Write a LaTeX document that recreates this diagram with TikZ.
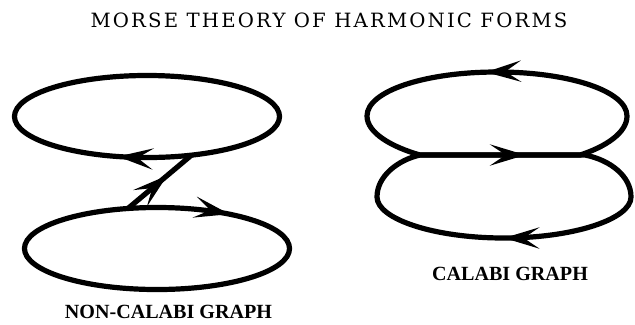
\documentclass[tikz,border=0pt]{standalone}
\usepackage{fontspec}
\usetikzlibrary{arrows.meta,positioning,shapes.geometric,decorations.markings}
\newfontfamily\labelfont{Liberation Serif}
\newfontfamily\titlefont[LetterSpace=11]{DejaVu Serif}

\begin{document}
\begin{tikzpicture}[x=0.025cm,y=-0.025cm,
    oval/.style={draw,ellipse,line width=3.7pt,inner sep=0pt,outer sep=0pt,
        minimum width=6.625cm,minimum height=2.05cm},
    wire/.style={line width=3.7pt},
    barb/.tip={Stealth[length=25pt,width=15pt,inset=11pt]},
    fwd/.style={postaction={decorate,decoration={markings,
        mark=at position #1 with {\arrow{barb}}}}},
    bwd/.style={postaction={decorate,decoration={markings,
        mark=at position #1 with {\arrowreversed{barb}}}}},
    caption/.style={font=\labelfont\bfseries\fontsize{14.3}{16}\selectfont}]
  \useasboundingbox (0,0) rectangle (635,324);

  \node[font=\titlefont\fontsize{14}{16}\selectfont]
      (title) at (329,20) {MORSE THEORY OF HARMONIC FORMS};

  % non-Calabi graph
  \node[oval,bwd=0.70]  (upperL) at (147,116.5) {};
  \node[oval,bwd=0.125] (lowerL) at (157,248.5) {};
  \draw[wire,fwd=0.62] (lowerL.126) -- (upperL.-41);
  \node[caption] (capL) at (168.5,311.5) {NON-CALABI GRAPH};

  % Calabi graph
  \draw[wire,fwd=0.18,fwd=0.652] (420,155) -- (580,155)
      .. controls (605,147) and (627,133) .. (627,116)
      .. controls (627,91) and (569,72) .. (497,72)
      .. controls (425,72) and (367,91) .. (367,116)
      .. controls (367,133) and (392,147) .. cycle;
  \draw[wire,fwd=0.645] (420,155) -- (585,155)
      .. controls (610,160) and (631,176) .. (631,197)
      .. controls (631,219) and (574,238) .. (504,238)
      .. controls (434,238) and (377,219) .. (377,197)
      .. controls (377,176) and (398,160) .. cycle;
  \node[caption] (capR) at (510,273.5) {CALABI GRAPH};
\end{tikzpicture}
\end{document}
